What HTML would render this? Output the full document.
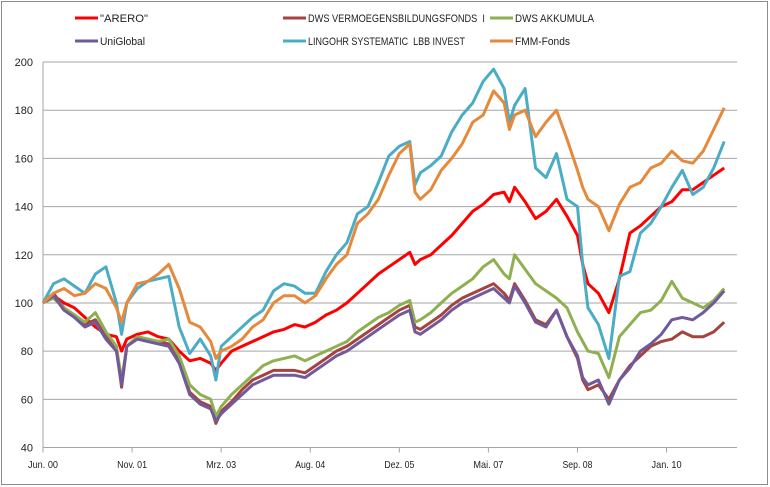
<!DOCTYPE html>
<html><head><meta charset="utf-8"><style>
body{margin:0;background:#fff;}
svg{display:block;font-family:"Liberation Sans",sans-serif;}
</style></head><body>
<svg id="chart" width="770" height="487">
<rect x="1.5" y="1.5" width="766" height="483" fill="#fff" stroke="#8c8c8c"/>
<g id="grid"></g>
<g id="yaxis"></g>
<g id="xaxis"></g>
<g id="series"></g>
<g id="legend"></g>
</svg>
<script>
const months=[0,2,4,6,8,10,12,14,15,16,18,20,22,24,26,28,30,32,33,34,36,38,40,42,44,46,48,50,52,54,56,58,60,62,64,66,68,70,71,72,74,76,78,80,82,84,86,88,89,90,92,94,96,98,100,102,103,104,106,108,110,112,114,116,118,120,122,124,126,128,130];
const arero=[100,103,100,98,94,90,87,86,80,85,87,88,86,85,80,76,77,75,72,75,80,82,84,86,88,89,91,90,92,95,97,100,104,108,112,115,118,121,116,118,120,124,128,133,138,141,145,146,142,148,142,135,138,143,136,128,116,108,104,96,110,129,132,136,140,142,147,147,150,153,156];
const dwsVerm=[100,104,98,95,91,93,86,81,65,82,86,85,84,83,76,63,59,57,50,55,59,64,68,70,72,72,72,71,74,77,80,82,85,88,91,94,97,99,90,89,92,95,99,102,104,106,108,104,101,108,101,93,91,97,86,77,68,64,66,60,68,74,78,82,84,85,88,86,86,88,92];
const dwsAkk=[100,102,98,95,92,96,88,82,68,82,86,85,84,85,78,66,62,60,53,57,62,66,70,74,76,77,78,76,78,80,82,84,88,91,94,96,99,101,92,93,96,100,104,107,110,115,118,112,110,120,114,108,105,102,98,88,84,80,79,69,86,91,96,97,101,109,102,100,98,101,106];
const uniGlobal=[100,103,97,94,90,92,85,80,66,82,85,84,83,82,75,62,58,56,51,54,58,62,66,68,70,70,70,69,72,75,78,80,83,86,89,92,95,97,88,87,90,93,97,100,102,104,106,102,100,107,100,92,90,97,86,78,69,66,68,58,68,73,80,83,87,93,94,93,96,100,105];
const lingohr=[100,108,110,107,104,112,115,100,87,100,106,109,110,111,90,79,85,78,68,82,86,90,94,97,105,108,107,104,104,113,120,125,137,140,150,161,165,167,149,154,157,161,171,178,183,192,197,189,175,182,189,156,152,162,143,140,116,98,91,77,111,113,129,133,140,148,155,145,148,156,167];
const fmm=[100,104,106,103,104,108,106,98,92,100,108,109,112,116,106,92,90,84,77,80,82,85,90,93,100,103,103,100,103,110,116,120,133,137,143,153,162,166,146,143,147,155,160,166,175,178,188,183,172,178,180,169,175,180,168,155,148,143,140,130,141,148,150,156,158,163,159,158,163,172,181];
const yTicks=[40,60,80,100,120,140,160,180,200];
const xTickMonths=[0,17,34,51,68,85,102,119];
const xTickLabels=["Jun. 00","Nov. 01","Mrz. 03","Aug. 04","Dez. 05","Mai. 07","Sep. 08","Jan. 10"];

const NS="http://www.w3.org/2000/svg";
const X0=43,X1=737,Y0=447.5,Y1=62;
const xs=m=>X0+m*5.24;
const ys=v=>Y0-(v-40)*(Y0-Y1)/160;
function mk(tag,attrs,parent){const e=document.createElementNS(NS,tag);for(const k in attrs)e.setAttribute(k,attrs[k]);parent.appendChild(e);return e;}
const grid=document.getElementById('grid'),ya=document.getElementById('yaxis'),xa=document.getElementById('xaxis'),sg=document.getElementById('series'),lg=document.getElementById('legend');
yTicks.forEach(v=>{
  const l=mk('line',{x1:X0,x2:X1,y1:ys(v),y2:ys(v),stroke:'#a6a6a6','stroke-width':1},grid);
  
  
  const t=mk('text',{x:33,y:ys(v)+4,'text-anchor':'end','font-size':11,fill:'#222'},ya);
  t.textContent=v;
  
  
});
const ax=mk('line',{x1:X0,x2:X0,y1:Y1,y2:Y0,stroke:'#a6a6a6','stroke-width':1},ya);


xTickMonths.forEach((m,i)=>{
  const tk=mk('line',{x1:xs(m),x2:xs(m),y1:Y0,y2:Y0+5,stroke:'#a6a6a6'},xa);
  
  
  const t=mk('text',{x:xs(m),y:468,'text-anchor':'middle','font-size':10.5,fill:'#222',textLength:30,lengthAdjust:'spacingAndGlyphs'},xa);
  t.textContent=xTickLabels[i];
  
  
});
const series=[
 {name:'"ARERO"',vals:arero,color:'#ff0000',lx:75,ly:18,id:'arero',tw:48},
 {name:'DWS VERMOEGENSBILDUNGSFONDS  I',vals:dwsVerm,color:'#a5433f',lx:283,ly:18,id:'dws-vermoegensbildungsfonds',tw:177},
 {name:'DWS AKKUMULA',vals:dwsAkk,color:'#8fb050',lx:490,ly:18,id:'dws-akkumula',tw:79},
 {name:'UniGlobal',vals:uniGlobal,color:'#715a9a',lx:75,ly:41,id:'uniglobal',tw:45},
 {name:'LINGOHR SYSTEMATIC  LBB INVEST',vals:lingohr,color:'#4bacc6',lx:283,ly:41,id:'lingohr',tw:157},
 {name:'FMM-Fonds',vals:fmm,color:'#e58a3c',lx:490,ly:41,id:'fmm-fonds',tw:55}
];
series.forEach(s=>{
  const d=s.vals.map((v,i)=>(i?'L':'M')+xs(months[i]).toFixed(1)+' '+ys(v).toFixed(1)).join(' ');
  const p=mk('path',{d:d,fill:'none',stroke:s.color,'stroke-width':3,'stroke-linejoin':'round'},sg);
  
  
  const ll=mk('line',{x1:s.lx,x2:s.lx+23,y1:s.ly,y2:s.ly,stroke:s.color,'stroke-width':3},lg);
  
  
  const t=mk('text',{x:s.lx+25,y:s.ly+4,'font-size':11,fill:'#222',textLength:s.tw,lengthAdjust:'spacingAndGlyphs'},lg);
  t.textContent=s.name;
  t.setAttribute('xml:space','preserve');
  t.style.whiteSpace='pre';
  
  
});
</script>
</body></html>
